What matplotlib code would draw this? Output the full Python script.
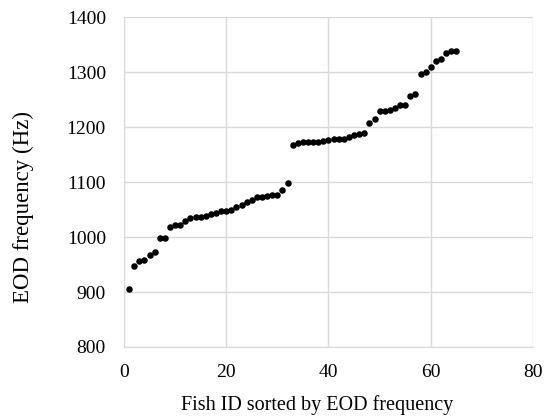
import numpy as np
import matplotlib
matplotlib.use("Agg")
import matplotlib.pyplot as plt

# EOD frequency per fish, sorted ascending
fish_id = np.arange(1, 66)
eod_freq = [905, 948, 957, 959, 967, 972, 998, 998, 1018, 1022,
            1022, 1029, 1034, 1036, 1036, 1039, 1042, 1044, 1048, 1048,
            1050, 1055, 1059, 1064, 1068, 1072, 1072, 1074, 1076, 1076,
            1086, 1098, 1167, 1171, 1172, 1173, 1173, 1173, 1175, 1177,
            1178, 1178, 1178, 1182, 1186, 1188, 1190, 1208, 1214, 1230,
            1230, 1231, 1234, 1240, 1241, 1256, 1261, 1296, 1300, 1309,
            1320, 1324, 1335, 1339, 1339]

x_ticks = [0, 20, 40, 60, 80]
y_ticks = [800, 900, 1000, 1100, 1200, 1300, 1400]

plt.rcParams['font.family'] = ['Liberation Serif', 'DejaVu Serif']

fig = plt.figure(figsize=(5.52, 4.16), dpi=100)
ax = fig.add_axes([0.2246, 0.1659, 0.741, 0.793])

ax.scatter(fish_id, eod_freq, s=22, color='black', zorder=3, linewidths=0)

ax.set_xlim(0, 80)
ax.set_ylim(800, 1400)
ax.set_xticks(x_ticks)
ax.set_yticks(y_ticks)
ax.grid(True, color='#d9d9d9', linewidth=1)
ax.set_axisbelow(True)
for s in ax.spines.values():
    s.set_visible(False)
ax.spines['left'].set_visible(True)
ax.spines['left'].set_color('#d9d9d9')
ax.spines['bottom'].set_visible(True)
ax.spines['bottom'].set_color('#d9d9d9')
ax.tick_params(length=0, labelsize=14)
ax.tick_params(axis='x', pad=12)
ax.tick_params(axis='y', pad=13)

ax.set_xlabel('Fish ID sorted by EOD frequency', fontsize=14.5)
ax.set_ylabel('EOD frequency (Hz)', fontsize=16.5)
ax.xaxis.set_label_coords(0.472, -0.145)
ax.yaxis.set_label_coords(-0.22, 0.424)

fig.savefig('out.png', dpi=100)
